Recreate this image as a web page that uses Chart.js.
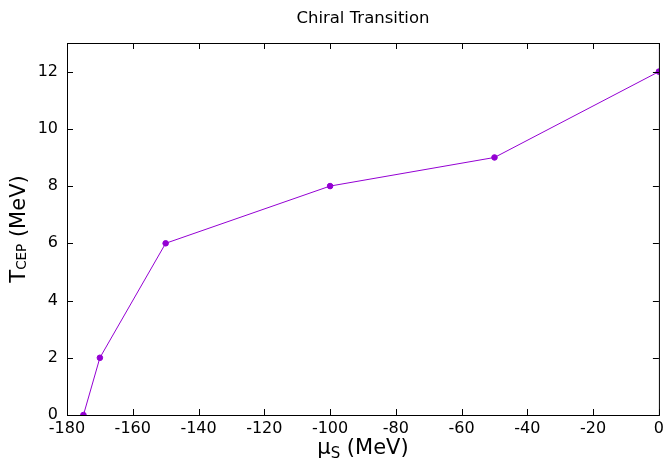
<!DOCTYPE html>
<html>
<head>
<meta charset="utf-8">
<script src="https://cdn.jsdelivr.net/npm/chart.js@4"></script>
<style>
  html, body { margin: 0; padding: 0; background: #fff; }
  #wrap { width: 668px; height: 462px; }
</style>
</head>
<body>
<div id="wrap"><canvas id="chart" width="668" height="462"></canvas></div>
<script>
// data
const muS = [-175, -170, -150, -100, -50, 0];
const tCEP = [0, 2, 6, 8, 9, 12];
const xTicks = [-180, -160, -140, -120, -100, -80, -60, -40, -20, 0];
const yTicks = [0, 2, 4, 6, 8, 10, 12];

const lineColor = '#9400d3';
const font = 'DejaVu Sans';

// draw text with a subscript part, centred on x
function subText(ctx, parts, x, y, big, small, drop) {
    ctx.font = big + 'px "' + font + '"';
    const w1 = ctx.measureText(parts[0]).width, w3 = ctx.measureText(parts[2]).width;
    ctx.font = small + 'px "' + font + '"';
    const w2 = ctx.measureText(parts[1]).width;
    const x0 = x - (w1 + w2 + w3) / 2;
    ctx.textAlign = 'left';
    ctx.textBaseline = 'alphabetic';
    ctx.font = big + 'px "' + font + '"';
    ctx.fillText(parts[0], x0, y);
    ctx.font = small + 'px "' + font + '"';
    ctx.fillText(parts[1], x0 + w1, y + drop);
    ctx.font = big + 'px "' + font + '"';
    ctx.fillText(parts[2], x0 + w1 + w2, y);
}

// frame, inward ticks on all sides, title and axis labels (gnuplot look)
const framePlugin = {
    id: 'frame',
    afterDraw(chart) {
        const { ctx, chartArea: a, scales } = chart;
        ctx.save();
        ctx.strokeStyle = '#000';
        ctx.lineWidth = 1;
        ctx.strokeRect(a.left + 0.5, a.top + 0.5, a.right - a.left, a.bottom - a.top);
        ctx.beginPath();
        xTicks.forEach(v => {
            const px = Math.round(scales.x.getPixelForValue(v)) + 0.5;
            ctx.moveTo(px, a.bottom); ctx.lineTo(px, a.bottom - 6);
            ctx.moveTo(px, a.top); ctx.lineTo(px, a.top + 6);
        });
        yTicks.forEach(v => {
            const py = Math.round(scales.y.getPixelForValue(v)) + 0.5;
            ctx.moveTo(a.left, py); ctx.lineTo(a.left + 6, py);
            ctx.moveTo(a.right, py); ctx.lineTo(a.right - 6, py);
        });
        ctx.stroke();

        ctx.fillStyle = '#000';
        ctx.textAlign = 'center';
        ctx.textBaseline = 'middle';
        ctx.font = '16.5px "' + font + '"';
        ctx.fillText('Chiral Transition', (a.left + a.right) / 2, 19);

        // baselines: main text bottom ~453, subscript bottom ~457
        subText(ctx, ['μ', 'S', ' (MeV)'], (a.left + a.right) / 2, 453.5, 21, 15, 4.5);

        ctx.translate(25, 229);
        ctx.rotate(-Math.PI / 2);
        subText(ctx, ['T', 'CEP', ' (MeV)'], 0, 0, 21, 13.5, 0.5);
        ctx.restore();
    }
};

const ctx = document.getElementById('chart').getContext('2d');
new Chart(ctx, {
    type: 'scatter',
    data: {
        datasets: [{
            data: muS.map((x, i) => ({ x: x, y: tCEP[i] })),
            showLine: true,
            borderColor: lineColor,
            backgroundColor: lineColor,
            borderWidth: 1,
            pointRadius: 2.8,
            pointHoverRadius: 2.8,
            tension: 0
        }]
    },
    options: {
        responsive: false,
        animation: false,
        devicePixelRatio: 1,
        layout: { padding: { top: 43, right: 7, left: 0, bottom: 0 } },
        plugins: { legend: { display: false }, tooltip: { enabled: false } },
        scales: {
            x: {
                type: 'linear', min: -180, max: 0,
                afterBuildTicks: s => { s.ticks = xTicks.map(v => ({ value: v })); },
                afterFit: s => { s.height = 47; },
                grid: { display: false, drawTicks: false },
                border: { display: false },
                ticks: { color: '#000', padding: 4, maxRotation: 0, autoSkip: false, font: { family: font, size: 16 } }
            },
            y: {
                type: 'linear', min: 0, max: 13,
                afterBuildTicks: s => { s.ticks = yTicks.map(v => ({ value: v })); },
                afterFit: s => { s.width = 67; },
                grid: { display: false, drawTicks: false },
                border: { display: false },
                ticks: { color: '#000', padding: 9, autoSkip: false, font: { family: font, size: 16 } }
            }
        }
    },
    plugins: [framePlugin]
});
</script>
</body>
</html>
